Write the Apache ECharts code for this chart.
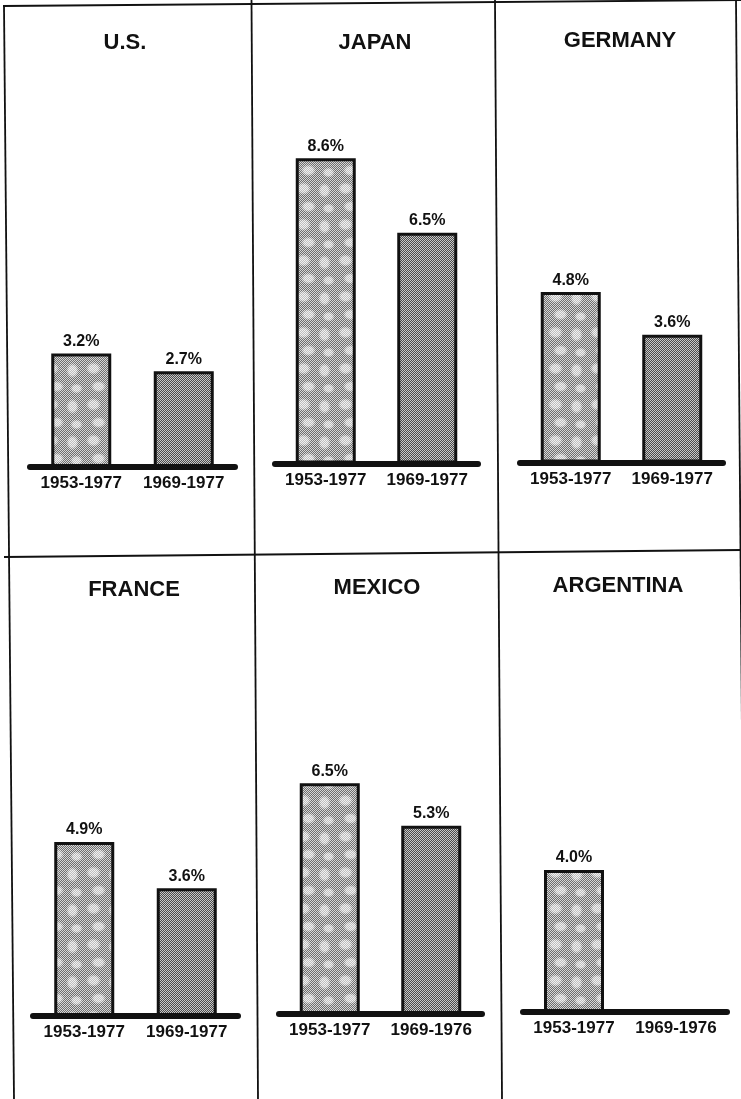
<!DOCTYPE html>
<html>
<head>
<meta charset="utf-8">
<title>Average annual growth rates</title>
<script src="https://cdn.jsdelivr.net/npm/echarts@6/dist/echarts.min.js"></script>
<style>
  html, body { margin: 0; padding: 0; background: #ffffff; }
  #chart { width: 741px; height: 1099px; }
</style>
</head>
<body>
<div id="chart"></div>
<script>
// Countries and their average annual growth rates (%) for two periods
const countries = ['U.S.', 'JAPAN', 'GERMANY', 'FRANCE', 'MEXICO', 'ARGENTINA'];
const periods = [
  ['1953-1977', '1969-1977'],
  ['1953-1977', '1969-1977'],
  ['1953-1977', '1969-1977'],
  ['1953-1977', '1969-1977'],
  ['1953-1977', '1969-1976'],
  ['1953-1977', '1969-1976']
];
const longPeriod = [3.2, 8.6, 4.8, 4.9, 6.5, 4.0];
const shortPeriod = [2.7, 6.5, 3.6, 3.6, 5.3, null];

// Panel placement: baseline extents and vertical position of each small chart
const panels = [
  { left: 30,  right: 235, base: 467,   tx: 125, ty: 43 },
  { left: 275, right: 478, base: 463.5, tx: 375, ty: 43 },
  { left: 520, right: 723, base: 462.5, tx: 620, ty: 41 },
  { left: 33,  right: 238, base: 1016,  tx: 134, ty: 590 },
  { left: 279, right: 482, base: 1014,  tx: 377, ty: 588 },
  { left: 523, right: 727, base: 1012,  tx: 618, ty: 586 }
];
const PLOT_H = 355;   // pixel height of the 0..10 % value range
const FONT = '"Liberation Sans", Arial, sans-serif';

// Halftone-like fills for the two bar kinds: a one-pixel checker screen,
// optionally broken up by soft lighter mottles.
function makePattern(w, h, dark, light, blobs) {
  const c = document.createElement('canvas');
  c.width = w; c.height = h;
  const g = c.getContext('2d');
  const img = g.createImageData(w, h);
  for (let y = 0; y < h; y++) {
    for (let x = 0; x < w; x++) {
      const odd = (x + y) % 2 === 1;
      let v = odd ? dark : light;
      let t = 0;
      for (const b of blobs) {
        let dx = Math.abs(x - b[0]); dx = Math.min(dx, w - dx);
        let dy = Math.abs(y - b[1]); dy = Math.min(dy, h - dy);
        const d = Math.sqrt((dx / b[2]) ** 2 + (dy / b[3]) ** 2);
        t = Math.max(t, Math.max(0, Math.min(1, (1.3 - d) / 0.6)));
      }
      if (t > 0) {
        const target = odd ? 190 : 242;
        v = Math.round(v + (target - v) * t);
      }
      const i = (y * w + x) * 4;
      img.data[i] = img.data[i + 1] = img.data[i + 2] = v;
      img.data[i + 3] = 255;
    }
  }
  g.putImageData(img, 0, 0);
  return { image: c, repeat: 'repeat' };
}
const fillLong = makePattern(42, 36, 110, 215,
  [[9, 8, 6, 5], [30, 10, 5, 6], [14, 26, 6, 4.5], [34, 28, 5, 4]]);
const fillShort = makePattern(4, 4, 75, 200, []);

const chart = echarts.init(document.getElementById('chart'), null, { renderer: 'canvas' });

const grids = [], xAxes = [], yAxes = [], series = [], graphics = [];

panels.forEach((p, i) => {
  grids.push({
    left: p.left, top: p.base - PLOT_H, width: p.right - p.left, height: PLOT_H,
    containLabel: false
  });
  xAxes.push({
    gridIndex: i, type: 'category', data: periods[i], z: 5,
    axisTick: { show: false },
    axisLine: { lineStyle: { color: '#111', width: 6 } },
    axisLabel: {
      interval: 0, hideOverlap: false,
      margin: 8, fontSize: 17, fontWeight: 'bold', fontFamily: FONT, color: '#111'
    }
  });
  yAxes.push({ gridIndex: i, type: 'value', min: 0, max: 10, show: false });
  const values = [longPeriod[i], shortPeriod[i]];
  series.push({
    type: 'bar', xAxisIndex: i, yAxisIndex: i, barWidth: 60,
    data: values.map((v, k) => ({
      value: v == null ? '-' : v,
      itemStyle: { color: k === 0 ? fillLong : fillShort }
    })),
    itemStyle: { borderColor: '#111', borderWidth: 3 },
    label: {
      show: true, position: 'top', distance: 4,
      formatter: (d) => Number(d.value).toFixed(1) + '%',
      fontSize: 16, fontWeight: 'bold', fontFamily: FONT, color: '#111'
    }
  });
  graphics.push({
    type: 'text', x: p.tx, y: p.ty, z: 10,
    style: {
      text: countries[i], textAlign: 'center', textVerticalAlign: 'middle',
      font: 'bold 22px ' + FONT, fill: '#111'
    }
  });
});

// Panel frame lines
const frame = [
  [3, 6, 741, 0],        // top
  [4, 6, 14, 1099],      // left
  [251.5, 0, 258, 1099], // first divider
  [495, 0, 502, 1099],   // second divider
  [736, 0, 745, 1099],   // right
  [4, 557, 741, 550]     // middle horizontal
];
frame.forEach(l => graphics.push({
  type: 'line', z: 1,
  shape: { x1: l[0], y1: l[1], x2: l[2], y2: l[3] },
  style: { stroke: '#111', lineWidth: 1.8 }
}));

chart.setOption({
  animation: false,
  backgroundColor: '#ffffff',
  grid: grids,
  xAxis: xAxes,
  yAxis: yAxes,
  series: series,
  graphic: { elements: graphics }
});
</script>
</body>
</html>
